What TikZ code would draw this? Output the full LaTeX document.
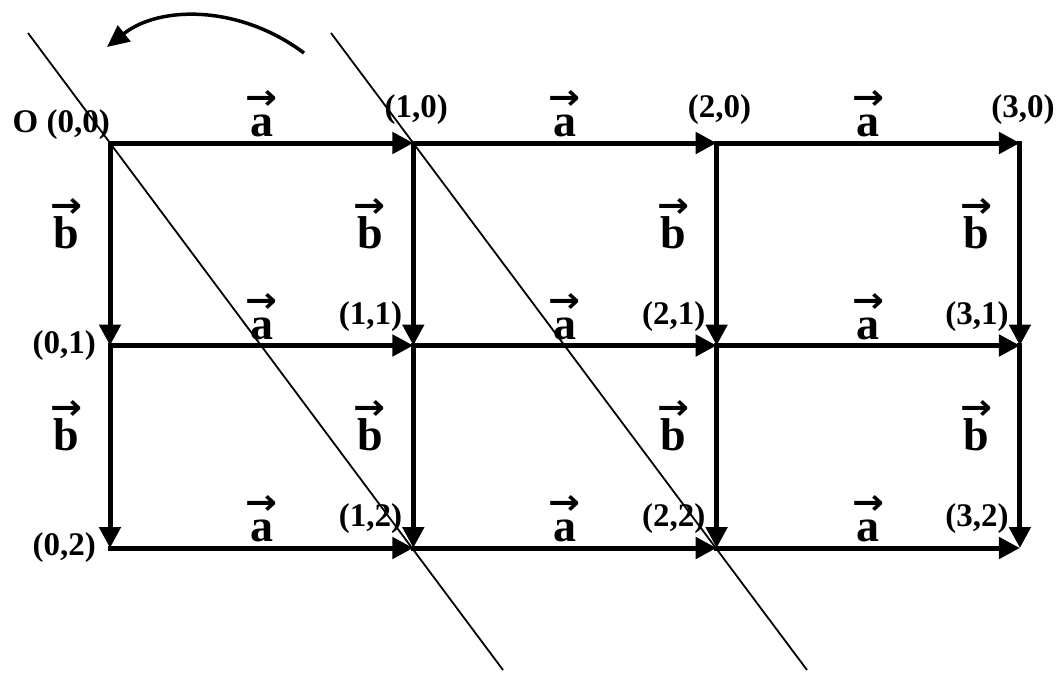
\documentclass[tikz,border=0pt]{standalone}
\usepackage{graphicx}
\usepackage{fontspec}
\setmainfont{Liberation Serif}
\newfontfamily\arrowfont{DejaVu Sans}
\usetikzlibrary{arrows.meta}
\newcommand{\vlab}[2]{\ooalign{\hfil#1\hfil\cr\hfil\raisebox{#2}{\resizebox{32pt}{19pt}{\arrowfont\bfseries →}}\hfil\cr}}

\begin{document}
\begin{tikzpicture}[x=1pt,y=-1pt,
  lattice/.style={line width=5pt,line cap=rect,-{Triangle[length=21pt,width=21pt]}},
  diag/.style={line width=1.8pt},
  ptlbl/.style={font=\bfseries\fontsize{33}{33}\selectfont,inner sep=0pt},
  vl/.style={font=\bfseries\fontsize{46}{46}\selectfont,inner sep=0pt}]
  \useasboundingbox (0,0) rectangle (1059,678);
  \foreach \i in {0,...,3}
    \foreach \j in {0,1,2}
      {\coordinate (p\i\j) at ({110+303.3*\i},{143+202.5*\j});}
  \coordinate (d1s) at (28,33);  \coordinate (d1e) at (503,670);
  \coordinate (d2s) at (331,33); \coordinate (d2e) at (807,670);
  \draw[diag] (d1s) -- (d1e);
  \draw[diag] (d2s) -- (d2e);
  \foreach \i/\k in {0/1,1/2,2/3}
    \foreach \j in {0,1,2}
      {\draw[lattice] (p\i\j) -- (p\k\j) node[vl,midway,above=4pt] (a\i\j) {\vlab{a}{27pt}};}
  \foreach \i in {0,...,3}
    \foreach \j/\k in {0/1,1/2}
      {\draw[lattice] (p\i\j) -- (p\i\k) node[vl,midway,left=25pt,yshift=12pt] (b\i\j) {\vlab{b}{31pt}};}
  \node[ptlbl,anchor=south east] (o00) at ([yshift=3pt]p00) {O (0,0)};
  \foreach \i in {1,2,3}
    {\node[ptlbl,above=18pt,xshift=3pt] (o\i0) at (p\i0) {(\i,0)};}
  \foreach \j in {1,2}
    {\node[ptlbl,left=14pt] (o0\j) at (p0\j) {(0,\j)};}
  \foreach \i in {1,2,3}
    \foreach \j in {1,2}
      {\node[ptlbl,anchor=south east,xshift=-11pt,yshift=14pt] (o\i\j) at (p\i\j) {(\i,\j)};}
  \coordinate (rs) at (304,53); \coordinate (re) at (107,47);
  \draw[line width=3.5pt,-{Triangle[length=22pt,width=20pt]}] (rs) .. controls (240,5) and (160,5) .. (re);
\end{tikzpicture}
\end{document}
